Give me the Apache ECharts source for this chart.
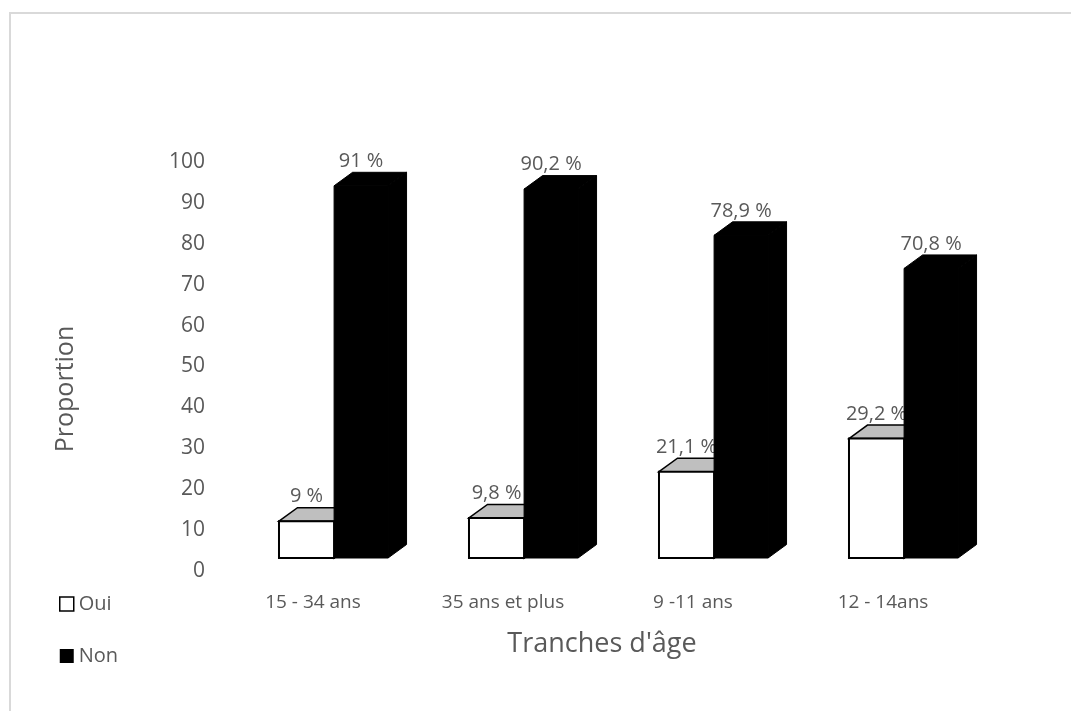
<!DOCTYPE html>
<html>
<head>
<meta charset="utf-8">
<script src="https://cdn.jsdelivr.net/npm/echarts@6/dist/echarts.min.js"></script>
<style>
  html, body { margin: 0; padding: 0; background: #fff; }
  #chart { width: 1071px; height: 711px; }
</style>
</head>
<body>
<div id="chart"></div>
<script>
// Age groups and the share (%) answering Oui / Non
const categories = ['15 - 34 ans', '35 ans et plus', '9 -11 ans', '12 - 14ans'];
const ouiValues = [9, 9.8, 21.1, 29.2];
const nonValues = [91, 90.2, 78.9, 70.8];
const yTicks = { min: 0, max: 100, interval: 10 };

const FONT = '"Open Sans", "Noto Sans", sans-serif';
const TEXT = '#595959';

// pseudo-3D box geometry (pixels)
const DEPTH_X = 18.5;
const DEPTH_Y = -13.5;
const LIFT = 13;

function fmt(v) {
  return String(v).replace('.', ',') + ' %';
}

function boxRenderer(kind) {
  return function (params, api) {
    const idx = api.value(0);
    const v = api.value(1);
    const band = api.size([1, 0])[0];
    const base = api.coord([idx, 0]);
    const top = api.coord([idx, v]);
    const yb = base[1] - LIFT;
    const yt = top[1] - LIFT;
    let x0, x1;
    if (kind === 'oui') {
      x0 = base[0] - 0.179 * band;
      x1 = base[0] + 0.111 * band;
    } else {
      x0 = base[0] + 0.111 * band;
      x1 = base[0] + 0.395 * band;
    }
    const isOui = kind === 'oui';
    const frontStyle = isOui
      ? { fill: '#ffffff', stroke: '#000000', lineWidth: 2 }
      : { fill: '#000000', stroke: '#000000', lineWidth: 1 };
    const topStyle = isOui
      ? { fill: '#bfbfbf', stroke: '#000000', lineWidth: 1.5 }
      : { fill: '#000000', stroke: '#000000', lineWidth: 1 };
    const sideStyle = isOui
      ? { fill: '#ffffff', stroke: '#000000', lineWidth: 1.5 }
      : { fill: '#000000', stroke: '#000000', lineWidth: 1 };
    return {
      type: 'group',
      children: [
        {
          type: 'polygon',
          shape: { points: [[x1, yt], [x1 + DEPTH_X, yt + DEPTH_Y], [x1 + DEPTH_X, yb + DEPTH_Y], [x1, yb]] },
          style: sideStyle
        },
        {
          type: 'polygon',
          shape: { points: [[x0, yt], [x0 + DEPTH_X, yt + DEPTH_Y], [x1 + DEPTH_X, yt + DEPTH_Y], [x1, yt]] },
          style: topStyle
        },
        {
          type: 'rect',
          shape: { x: x0, y: yt, width: x1 - x0, height: yb - yt },
          style: frontStyle
        },
        {
          type: 'text',
          x: (x0 + x1) / 2,
          y: yt + DEPTH_Y - 1,
          style: {
            text: fmt(v),
            fill: TEXT,
            font: '20px ' + FONT,
            align: 'center',
            verticalAlign: 'bottom'
          }
        }
      ]
    };
  };
}

const chart = echarts.init(document.getElementById('chart'), null, { renderer: 'canvas' });

chart.setOption({
  animation: false,
  backgroundColor: '#ffffff',
  grid: { left: 218, right: 93, top: 162, bottom: 140 },
  graphic: [
    {
      type: 'polyline',
      shape: { points: [[10, 711], [10, 13], [1071, 13]] },
      style: { stroke: '#d9d9d9', lineWidth: 2, fill: 'none' },
      silent: true
    },
    {
      type: 'text',
      x: 66,
      y: 389,
      rotation: Math.PI / 2,
      style: {
        text: 'Proportion',
        fill: TEXT,
        font: '25px ' + FONT,
        align: 'center',
        verticalAlign: 'middle'
      },
      silent: true
    }
  ],
  legend: {
    orient: 'vertical',
    left: 54,
    top: 589,
    itemGap: 32,
    itemWidth: 14,
    itemHeight: 14,
    textStyle: { color: TEXT, fontSize: 20, fontFamily: FONT },
    data: [
      { name: 'Oui', icon: 'rect', itemStyle: { color: '#ffffff', borderColor: '#000000', borderWidth: 1.5 } },
      { name: 'Non', icon: 'rect', itemStyle: { color: '#000000', borderWidth: 0 } }
    ]
  },
  xAxis: {
    type: 'category',
    data: categories,
    name: "Tranches d'âge",
    nameLocation: 'middle',
    nameGap: 60,
    nameTextStyle: { color: TEXT, fontSize: 27, fontFamily: FONT, padding: [0, 0, 0, 8] },
    axisLine: { show: false },
    axisTick: { show: false },
    axisLabel: { color: TEXT, fontSize: 19, fontFamily: FONT, margin: 22 }
  },
  yAxis: {
    type: 'value',
    min: yTicks.min,
    max: yTicks.max,
    interval: yTicks.interval,
    axisLine: { show: false },
    axisTick: { show: false },
    splitLine: { show: false },
    axisLabel: { color: TEXT, fontSize: 21, fontFamily: FONT, margin: 13 }
  },
  series: [
    {
      name: 'Oui',
      type: 'custom',
      renderItem: boxRenderer('oui'),
      encode: { x: 0, y: 1 },
      itemStyle: { color: '#ffffff' },
      data: ouiValues.map((v, i) => [i, v]),
      z: 2
    },
    {
      name: 'Non',
      type: 'custom',
      renderItem: boxRenderer('non'),
      encode: { x: 0, y: 1 },
      itemStyle: { color: '#000000' },
      data: nonValues.map((v, i) => [i, v]),
      z: 3
    }
  ]
});
</script>
</body>
</html>
